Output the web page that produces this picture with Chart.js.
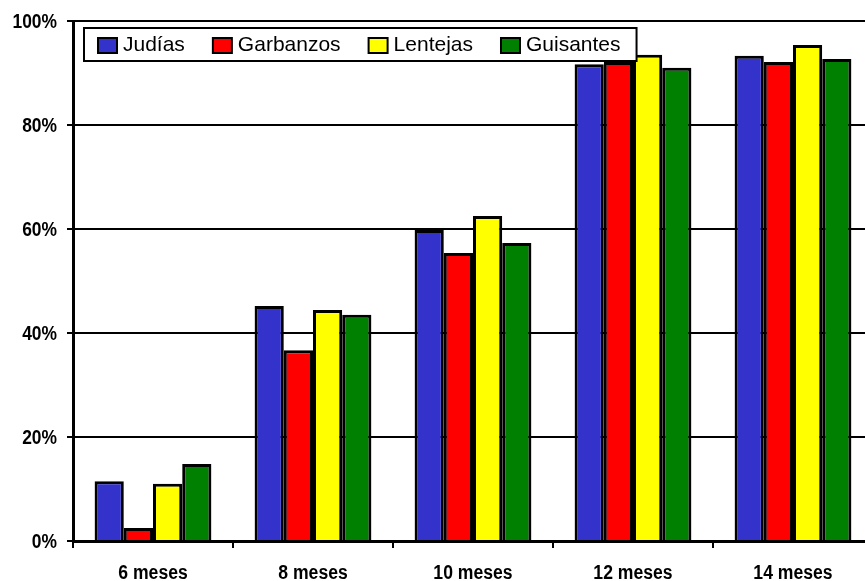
<!DOCTYPE html>
<html>
<head>
<meta charset="utf-8">
<script src="https://cdn.jsdelivr.net/npm/chart.js@4"></script>
<style>
  html, body { margin: 0; padding: 0; background: #fff; overflow: hidden; }
  #wrap { width: 880px; height: 581px; }
</style>
</head>
<body>
<div id="wrap"><canvas id="chart" width="880" height="581"></canvas></div>
<script>
// Germination share by age of seed, four legumes side by side per month group.
const categories = ["6 meses", "8 meses", "10 meses", "12 meses", "14 meses"];
const judias = [11.5, 45.2, 59.8, 91.7, 93.3];
const garbanzos = [2.5, 36.7, 55.4, 92.1, 92.1];
const lentejas = [11.0, 44.4, 62.5, 93.5, 95.4];
const guisantes = [14.8, 43.5, 57.3, 91.0, 92.7];
const yTicks = [0, 20, 40, 60, 80, 100];

const series = [
  { label: "Judías", data: judias, color: "#3333CC" },
  { label: "Garbanzos", data: garbanzos, color: "#FF0000" },
  { label: "Lentejas", data: lentejas, color: "#FFFF00" },
  { label: "Guisantes", data: guisantes, color: "#008000" },
];

const FONT = '"Liberation Sans", Arial, sans-serif';

// Axis labels use a condensed bold face; squeeze the regular one horizontally.
function narrowText(ctx, text, x, y, sx, align) {
  ctx.save();
  ctx.translate(x, y);
  ctx.scale(sx, 1);
  ctx.textAlign = align;
  ctx.textBaseline = "middle";
  ctx.fillText(text, 0, 0);
  ctx.restore();
}

const axisLabels = {
  id: "axisLabels",
  afterDraw(chart) {
    const ctx = chart.ctx;
    const { x, y } = chart.scales;
    ctx.save();
    ctx.fillStyle = "#000";
    ctx.font = "bold 20px " + FONT;
    y.ticks.forEach((t) => narrowText(ctx, t.value + "%", 57, y.getPixelForValue(t.value) + 1, 0.87, "right"));
    categories.forEach((c, i) => narrowText(ctx, c, x.getPixelForTick(i), 573, 0.88, "center"));
    ctx.restore();
  },
};

// Boxed legend sitting inside the plot, top-left.
const boxLegend = {
  id: "boxLegend",
  afterDraw(chart) {
    const ctx = chart.ctx;
    const x0 = 84, y0 = 28, h = 33;
    ctx.save();
    ctx.font = "21px " + FONT;
    let x = x0 + 14;
    const items = series.map((s) => {
      const it = { x, s, w: ctx.measureText(s.label).width };
      x += 19 + 6 + it.w + 28;
      return it;
    });
    const boxW = x - 28 + 16 - x0;
    ctx.fillStyle = "#fff";
    ctx.fillRect(x0, y0, boxW, h);
    ctx.lineWidth = 2;
    ctx.strokeStyle = "#000";
    ctx.strokeRect(x0, y0, boxW, h);
    ctx.textBaseline = "middle";
    items.forEach((it) => {
      ctx.fillStyle = it.s.color;
      ctx.fillRect(it.x, y0 + 10, 19, 15);
      ctx.strokeRect(it.x, y0 + 10, 19, 15);
      ctx.fillStyle = "#000";
      ctx.fillText(it.s.label, it.x + 19 + 6, y0 + h / 2 + 1);
    });
    ctx.restore();
  },
};

new Chart(document.getElementById("chart"), {
  type: "bar",
  data: {
    labels: categories,
    datasets: series.map((s) => ({
      label: s.label,
      data: s.data,
      backgroundColor: s.color,
      borderColor: "#000",
      borderWidth: 3,
      borderSkipped: "start",
      categoryPercentage: 0.73,
      barPercentage: 1.0,
    })),
  },
  options: {
    responsive: false,
    animation: false,
    layout: { padding: { top: 21, right: 7, left: 0, bottom: 0 } },
    plugins: { legend: { display: false }, tooltip: { enabled: false } },
    scales: {
      x: {
        grid: { display: true, drawOnChartArea: false, drawTicks: true, tickLength: 7, color: "#000", lineWidth: 2, offset: true },
        border: { display: true, color: "#000", width: 3 },
        ticks: { display: false },
        afterFit: (s) => { s.height = 40; },
      },
      y: {
        min: 0,
        max: 100,
        afterBuildTicks: (s) => { s.ticks = yTicks.map((v) => ({ value: v })); },
        grid: { color: "#000", lineWidth: 2, tickLength: 6, drawTicks: true },
        border: { display: true, color: "#000", width: 3 },
        ticks: { display: false },
        afterFit: (s) => { s.width = 73; },
      },
    },
  },
  plugins: [axisLabels, boxLegend],
});
</script>
</body>
</html>
